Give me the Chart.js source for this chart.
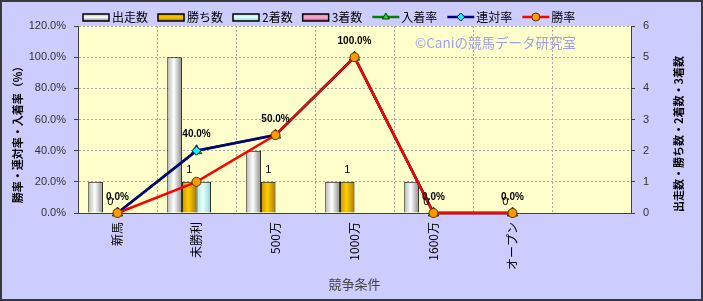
<!DOCTYPE html>
<html>
<head>
<meta charset="utf-8">
<script src="https://cdn.jsdelivr.net/npm/chart.js@4/dist/chart.umd.min.js"></script>
<style>
  html, body { margin: 0; padding: 0; background: #ccccff; }
  canvas { display: block; }
</style>
</head>
<body>
<canvas id="raceChart" width="703" height="301"></canvas>
<script>
// ===== data =====
const categories = ["新馬", "未勝利", "500万", "1000万", "1600万", "オープン", ""];
const starts  = [1, 5, 2, 1, 1, 0, null];
const wins    = [0, 1, 1, 1, 0, 0, null];
const seconds = [0, 1, 0, 0, 0, 0, null];
const thirds  = [0, 0, 0, 0, 0, 0, null];
const placeRate = [0, 40, 50, 100, 0, 0, null];
const top2Rate  = [0, 40, 50, 100, 0, 0, null];
const winRate   = [0, 20, 50, 100, 0, 0, null];
const pctTicks   = [0, 20, 40, 60, 80, 100, 120];
const countTicks = [0, 1, 2, 3, 4, 5, 6];

const JP = '"Noto Sans CJK JP", "Noto Sans", sans-serif';
const NUM = '"Liberation Sans", Arial, sans-serif';

// gradient stops for the bar faces (left -> right)
const greyStops = [[0, "#b8b8b8"], [0.45, "#ffffff"], [1, "#8a8a8a"]];
const goldStops = [[0, "#c89600"], [0.45, "#ffcc00"], [1, "#a87c00"]];
const cyanStops = [[0, "#a8e4e4"], [0.45, "#e8ffff"], [1, "#90d0d0"]];
const pinkStops = [[0, "#e070a0"], [0.45, "#ffb0d0"], [1, "#c05080"]];

function barFill(stops) {
  return (ctx) => {
    const el = ctx.element;
    if (!el || !isFinite(el.x) || !el.width) return stops[1][1];
    const g = ctx.chart.ctx.createLinearGradient(el.x - el.width / 2, 0, el.x + el.width / 2, 0);
    stops.forEach(([o, c]) => g.addColorStop(o, c));
    return g;
  };
}

function barSet(label, data, stops) {
  return {
    type: "bar",
    label,
    data,
    yAxisID: "y1",
    backgroundColor: barFill(stops),
    borderColor: "#000",
    borderWidth: 1,
    categoryPercentage: 0.74,
    barPercentage: 1.0,
    order: 10,
    legendStops: stops
  };
}

function lineSet(label, data, color, style, fill, edge, radius, order) {
  return {
    type: "line",
    label,
    data,
    yAxisID: "y",
    borderColor: color,
    borderWidth: 2.5,
    pointStyle: style,
    pointRadius: radius,
    pointBackgroundColor: fill,
    pointBorderColor: edge,
    pointBorderWidth: 1,
    tension: 0,
    fill: false,
    clip: false,
    order
  };
}

// ===== plugins =====
const backdrop = {
  id: "backdrop",
  beforeDraw(chart) {
    const { ctx, chartArea: a } = chart;
    ctx.save();
    ctx.fillStyle = "#ccccff";
    ctx.fillRect(0, 0, chart.width, chart.height);
    ctx.fillStyle = "#ffffcc";
    ctx.fillRect(a.left, a.top, a.right - a.left, a.bottom - a.top);
    ctx.restore();
  },
  beforeDatasetsDraw(chart) {
    const ctx = chart.ctx;
    ctx.save();
    ctx.fillStyle = "#a0a0ee";
    ctx.font = "13.5px " + JP;
    ctx.textBaseline = "middle";
    ctx.fillText("©Caniの競馬データ研究室", 415, 43);
    ctx.restore();
  }
};

const valueLabels = {
  id: "valueLabels",
  afterDatasetsDraw(chart) {
    const ctx = chart.ctx;
    ctx.save();
    ctx.fillStyle = "#000";
    ctx.textAlign = "center";
    ctx.textBaseline = "bottom";
    ctx.font = "11px " + NUM;
    chart.getDatasetMeta(1).data.forEach((el, i) => {
      if (wins[i] == null || !isFinite(el.x)) return;
      ctx.fillText(String(wins[i]), el.x, el.y - 6);
    });
    ctx.font = "bold 10px " + NUM;
    chart.getDatasetMeta(5).data.forEach((el, i) => {
      if (top2Rate[i] == null || !isFinite(el.x)) return;
      ctx.fillText(top2Rate[i].toFixed(1) + "%", el.x, el.y - 11);
    });
    ctx.restore();
  }
};

function marker(ctx, style, x, y, r, fill, edge) {
  ctx.beginPath();
  if (style === "circle") {
    ctx.arc(x, y, r, 0, Math.PI * 2);
  } else if (style === "rectRot") {
    ctx.moveTo(x, y - r); ctx.lineTo(x + r, y); ctx.lineTo(x, y + r); ctx.lineTo(x - r, y);
    ctx.closePath();
  } else {
    ctx.moveTo(x, y - r); ctx.lineTo(x + r * 0.87, y + r * 0.5); ctx.lineTo(x - r * 0.87, y + r * 0.5);
    ctx.closePath();
  }
  ctx.fillStyle = fill;
  ctx.fill();
  ctx.lineWidth = 1;
  ctx.strokeStyle = edge;
  ctx.stroke();
}

const topLegend = {
  id: "topLegend",
  afterDraw(chart) {
    const ctx = chart.ctx;
    ctx.save();
    ctx.font = "12px " + JP;
    ctx.textBaseline = "middle";
    const cy = 17;
    let x = 83;
    chart.data.datasets.forEach((ds) => {
      if (ds.type === "bar") {
        const g = ctx.createLinearGradient(0, cy - 3, 0, cy + 4);
        g.addColorStop(0, ds.legendStops[0][1]);
        g.addColorStop(0.45, ds.legendStops[1][1]);
        g.addColorStop(1, ds.legendStops[2][1]);
        ctx.fillStyle = g;
        ctx.fillRect(x, cy - 3, 26, 7);
        ctx.lineWidth = 1.5;
        ctx.strokeStyle = "#000";
        ctx.strokeRect(x, cy - 3, 26, 7);
      } else {
        ctx.strokeStyle = ds.borderColor;
        ctx.lineWidth = 2.5;
        ctx.beginPath();
        ctx.moveTo(x, cy); ctx.lineTo(x + 27, cy);
        ctx.stroke();
        marker(ctx, ds.pointStyle, x + 13.5, cy, 4, ds.pointBackgroundColor, ds.pointBorderColor);
      }
      x += 29;
      ctx.fillStyle = "#000";
      ctx.fillText(ds.label, x, cy);
      x += ctx.measureText(ds.label).width + 10;
    });

    // axis titles, both read bottom-to-top
    ctx.font = "bold 11px " + JP;
    ctx.textAlign = "center";
    ctx.fillStyle = "#000";
    ctx.translate(18, 132);
    ctx.rotate(-Math.PI / 2);
    ctx.fillText("勝率・連対率・入着率（%）", 0, 0);
    ctx.setTransform(1, 0, 0, 1, 0, 0);
    ctx.translate(679, 134);
    ctx.rotate(-Math.PI / 2);
    ctx.fillText("出走数・勝ち数・2着数・3着数", 0, 0);
    ctx.setTransform(1, 0, 0, 1, 0, 0);

    // outer frame
    ctx.lineWidth = 2;
    ctx.strokeStyle = "#3a3a3a";
    ctx.strokeRect(1, 1, chart.width - 2, chart.height - 2);
    ctx.restore();
  }
};

// ===== chart =====
const chart = new Chart(document.getElementById("raceChart"), {
  data: {
    labels: categories,
    datasets: [
      barSet("出走数", starts, greyStops),
      barSet("勝ち数", wins, goldStops),
      barSet("2着数", seconds, cyanStops),
      barSet("3着数", thirds, pinkStops),
      lineSet("入着率", placeRate, "#008000", "triangle", "#33cc33", "#004400", 6, 3),
      lineSet("連対率", top2Rate, "#000080", "rectRot", "#00ffff", "#000060", 4.5, 2),
      lineSet("勝率", winRate, "#ff0000", "circle", "#ff9900", "#553300", 4.5, 1)
    ]
  },
  options: {
    responsive: false,
    animation: false,
    events: [],
    layout: { padding: { top: 26, left: 0, right: 0, bottom: 0 } },
    plugins: {
      legend: { display: false },
      tooltip: { enabled: false }
    },
    scales: {
      x: {
        grid: { color: "#a8a8a8", drawTicks: false },
        border: { color: "#404040", dash: [2, 2] },
        ticks: {
          color: "#000",
          font: { family: JP, size: 12 },
          minRotation: 90,
          maxRotation: 90,
          padding: 9,
          autoSkip: false
        },
        title: {
          display: true,
          text: "競争条件",
          color: "#444",
          font: { family: JP, size: 13 },
          padding: { top: 0, bottom: 9 }
        },
        afterFit(s) { s.height = 88; }
      },
      y: {
        position: "left",
        min: pctTicks[0],
        max: pctTicks[pctTicks.length - 1],
        grid: { color: "#a8a8a8", tickColor: "#404040", tickLength: 4 },
        border: { color: "#404040", dash: [2, 2] },
        ticks: {
          stepSize: pctTicks[1] - pctTicks[0],
          color: "#333",
          font: { family: NUM, size: 11 },
          padding: 8,
          callback: (v) => v.toFixed(1) + "%"
        },
        afterFit(s) { s.width = 78; }
      },
      y1: {
        position: "right",
        min: countTicks[0],
        max: countTicks[countTicks.length - 1],
        grid: { drawOnChartArea: false, color: "#404040", tickLength: 4 },
        border: { color: "#404040" },
        ticks: {
          stepSize: countTicks[1] - countTicks[0],
          color: "#333",
          font: { family: NUM, size: 11 },
          padding: 8
        },
        afterFit(s) { s.width = 72; }
      }
    }
  },
  plugins: [backdrop, valueLabels, topLegend]
});
// second pass so the bar gradients can use the laid-out bar positions
chart.update();
</script>
</body>
</html>
